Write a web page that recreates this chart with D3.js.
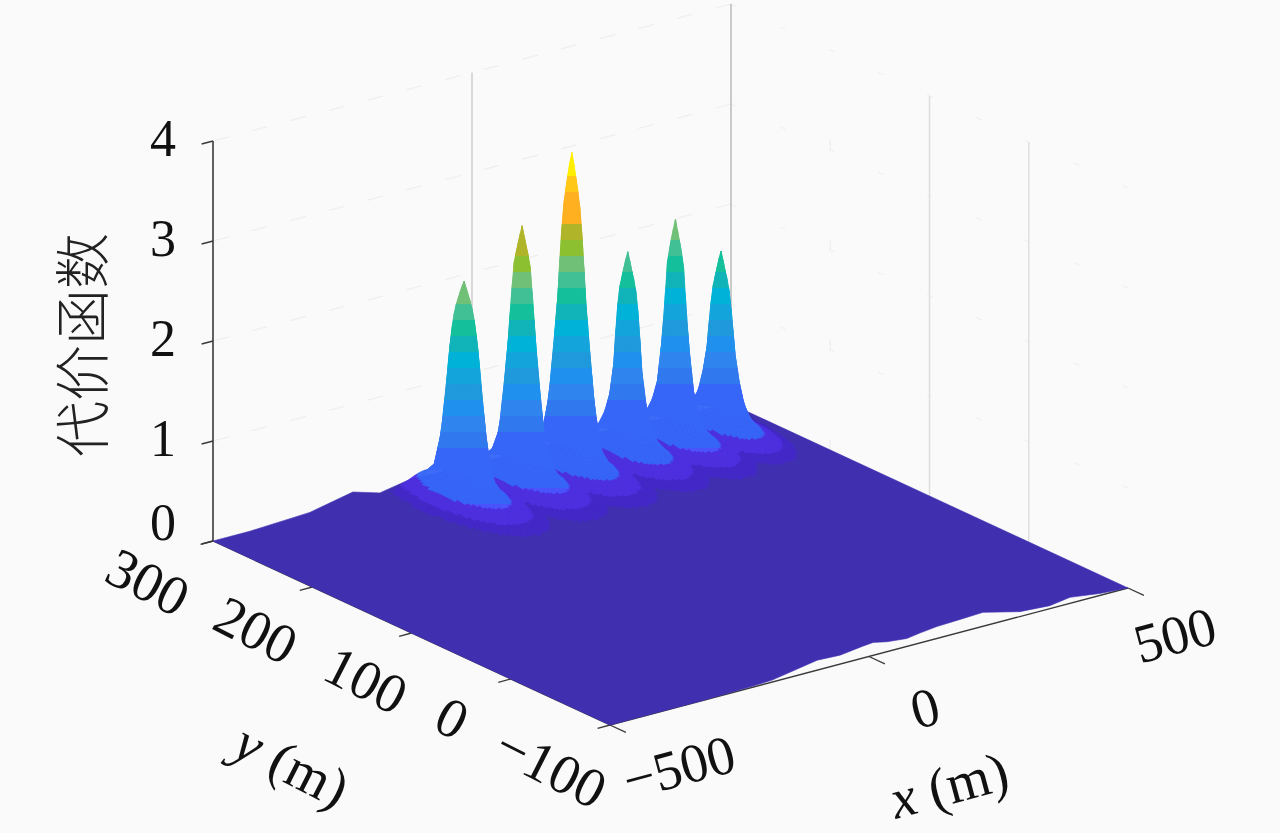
<!DOCTYPE html>
<html><head><meta charset="utf-8">
<script src="https://cdn.jsdelivr.net/npm/d3@7"></script>
<style>html,body{margin:0;padding:0;background:#fafafa}svg{display:block}</style>
</head><body><svg id="c" width="1280" height="833"></svg>
<script>
const zTicks=[0,1,2,3,4], xTicks=[-500,0,500], yTicks=[-100,0,100,200,300];
const peakX=[-88,24,120,228,320,408];
const peakY=[262,262,262,262,262,262];
const peakRadii=[0,2,5,8,11,14,18,23,30,40,55,75,95];
const peak1=[2.21,2.16,2.07,1.95,1.80,1.55,1.10,.62,.28,.16,.10,.04,0];
const peak2=[2.61,2.53,2.40,2.22,1.85,1.42,.97,.50,.28,.16,.10,.04,0];
const peak3=[3.21,3.12,2.94,2.68,2.30,1.75,1.25,.70,.30,.16,.10,.04,0];
const peak4=[2.07,2.00,1.87,1.70,1.42,.92,.60,.40,.24,.15,.09,.03,0];
const peak5=[2.27,2.18,2.04,1.82,1.35,.98,.60,.40,.24,.15,.09,.03,0];
const peak6=[1.83,1.76,1.63,1.46,1.20,.84,.58,.36,.22,.14,.08,.02,0];
const frontX=[-500,-326,-230,-187,-100,-56,-12,8,35,73,98,131,176,220,291,349,388,446,500];
const frontZ=[0,0,.01,.02,.10,.09,.12,.13,.10,.08,.10,.12,.13,.14,.05,.03,.06,.02,0];
const backX=[-500,-429,-313,-230,-178,-114,-81,40,200,430,500];
const backZ=[0,0,.03,.12,.04,.10,.09,.08,.08,.02,0];
const zBands=[.02,.06,.14,.26,.42,.58,.74,.90,1.06,1.22,1.38,1.54,1.70,1.86,2.02,2.18,2.34,2.50,2.80,3.00];
const bandColors=["#4030b0","#4429c8","#4f30e0","#4a48f8","#4a55ff","#3566f8","#3078ee","#2f84ee","#2090ee","#2098dc","#14a4dc","#00b2d8","#10b4b8","#14c09c","#40c094","#70c078","#8cc030","#b0b428","#ffb020","#ffc818","#ffee00"];
const zTitle="代价函数";

const svg=d3.select("#c");
svg.append("rect").attr("width",1280).attr("height",833).attr("fill","#fafafa");
const uS=d3.scaleLinear().domain([-500,500]).range([0,1]);
const vS=d3.scaleLinear().domain([-100,300]).range([0,1]);
const zS=d3.scaleLinear().domain([0,4]).range([0,400]);
const P=(x,y,z=0)=>{const u=uS(x),v=vS(y);return [610+518*u-397*v,725-137*u-184*v-zS(z)];};
const color=d3.scaleThreshold().domain(zBands).range(bandColors);
const peakTables=[peak1,peak2,peak3,peak4,peak5,peak6];
const peakProfiles=peakTables.map(h=>d3.scaleLinear().domain(peakRadii).range(h).clamp(true));
const K=0.55;
function peakAt(x,y,i){
  const a=(x-peakX[i])*.518,b=(y-peakY[i])*.99*K;
  return peakProfiles[i](Math.hypot(a,b)*Math.sqrt(1+1/(K*K)));
}
function zAt(x,y){let m=0;for(let i=0;i<peakX.length;i++)m=Math.max(m,peakAt(x,y,i));return m;}
function nearest(x,y){let b=0,m=-1;for(let i=0;i<peakX.length;i++){const v=peakAt(x,y,i);if(v>m){m=v;b=i;}}return b;}
// stepped vertical gradient per peak: the surface is coloured in horizontal bands, 16px on the flanks, 8px on the skirts
const defs=svg.append("defs");
peakX.forEach((px,i)=>{
  const baseY=P(px,peakY[i])[1];
  const cap=peakTables[i][0]*.95;
  const g=defs.append("linearGradient").attr("id","flank"+i).attr("gradientUnits","userSpaceOnUse")
    .attr("x1",0).attr("x2",0).attr("y1",0).attr("y2",832);
  for(let s=0;s<832;){
    const band=s<baseY-48?16:8;
    const h=baseY-(s+band/2);
    const val=h>=50?Math.min(h/100,cap):h>=0?.5:Math.max(.03,.5+h*.016);
    const c=color(val);
    g.append("stop").attr("offset",s/832).attr("stop-color",c);
    g.append("stop").attr("offset",(s+band)/832).attr("stop-color",c);
    s+=band;
  }
});
// grid
const grid=svg.append("g");
const gl=(a,b,c,w,d)=>grid.append("line").attr("x1",a[0]).attr("y1",a[1]).attr("x2",b[0]).attr("y2",b[1]).attr("stroke",c).attr("stroke-width",w).attr("stroke-dasharray",d||null);
[1,2,3,4].forEach(z=>{
  gl(P(-500,300,z),P(500,300,z),"#eeeeee",1.2,"16 24");
  gl(P(500,300,z),P(500,-100,z),"#f0f0f0",1.2,"6 48");
});
gl(P(0,300,0),P(0,300,4),"#cdcdcd",1.5);
gl(P(500,300,0),P(500,300,4),"#c4c4c4",1.8);
gl(P(500,200,0),P(500,200,4),"#eeeeee",1.3,"10 90");
gl(P(500,100,0),P(500,100,4),"#dedede",1.5);
gl(P(500,0,0),P(500,0,4),"#e0e0e0",1.5);
// axes
const ax=svg.append("g").attr("stroke","#3a3a3a").attr("fill","none");
const al=(a,b,w)=>ax.append("line").attr("x1",a[0]).attr("y1",a[1]).attr("x2",b[0]).attr("y2",b[1]).attr("stroke-width",w);
al(P(-500,300,0),P(-500,300,4),1.6);
zTicks.forEach(z=>al(P(-500,300,z),P(-522,300,z),1.4));
al(P(-500,300),P(-500,-100),1.2);
al(P(-500,-100),P(500,-100),1.4);
yTicks.forEach(y=>al(P(-500,y),P(-524,y),1.3));
xTicks.forEach(x=>al(P(x,-100),P(x,-116),1.3));
// floor
const line=d3.line();
const floorPts=[...backX.map((x,i)=>P(x,300,backZ[i])),...frontX.map((x,i)=>P(x,-100,frontZ[i])).reverse()];
svg.append("path").attr("d",line(floorPts)+"Z").attr("fill",bandColors[0]).attr("stroke",bandColors[0]).attr("stroke-width",.6);
// peak mesh, painted far to near
const mesh=[];
const dx=4,dy=2;
for(let y=300;y>164;y-=dy){
  for(let x=500;x>-240;x-=dx){
    const z=[zAt(x,y),zAt(x-dx,y),zAt(x-dx,y-dy),zAt(x,y-dy)];
    if(d3.max(z)<.02) continue;
    mesh.push({x,y,z,mean:d3.mean(z),i:nearest(x-dx/2,y-dy/2)});
  }
}
const shade=d=>d.mean<.13?color(d.mean):`url(#flank${d.i})`;
svg.append("g").selectAll("path").data(mesh).join("path")
  .attr("d",d=>line([P(d.x,d.y,d.z[0]),P(d.x-dx,d.y,d.z[1]),P(d.x-dx,d.y-dy,d.z[2]),P(d.x,d.y-dy,d.z[3])])+"Z")
  .attr("fill",shade).attr("stroke",shade).attr("stroke-width",.5);
// labels
const txt=svg.append("g").attr("font-family","'Liberation Serif',serif").attr("fill","#111");
const label=(s,x,y,rot,size)=>txt.append("text").attr("transform",`translate(${x},${y}) rotate(${rot})`).attr("text-anchor","middle").attr("dy",".34em").attr("font-size",size).text(s);
const fmt=v=>v<0?"\u2212"+Math.abs(v):""+v;
const zPos=[522,438,338,238,138];
zTicks.forEach((z,i)=>label(fmt(z),163,zPos[i],0,52));
const yPos=[[551,767],[452,718],[366,680],[256,630],[148,582]];
yTicks.forEach((y,i)=>label(fmt(y),yPos[i][0],yPos[i][1],27,56));
const xPos=[[679,767],[925,708],[1175,635]];
xTicks.forEach((x,i)=>label(fmt(x),xPos[i][0],xPos[i][1],-15,55));
const xl=label("",949,785,-15,56);
xl.append("tspan").attr("font-style","italic").text("x");xl.append("tspan").text(" (m)");
const yl=label("",292,765,27,56);
yl.append("tspan").attr("font-style","italic").text("y");yl.append("tspan").text(" (m)");
svg.append("text").attr("transform","translate(83,345) rotate(-90)").attr("text-anchor","middle").attr("dy",".36em")
  .attr("font-family","'Noto Sans CJK SC',sans-serif").attr("font-weight",300).attr("font-size",56).attr("fill","#222").text(zTitle);
</script></body></html>
